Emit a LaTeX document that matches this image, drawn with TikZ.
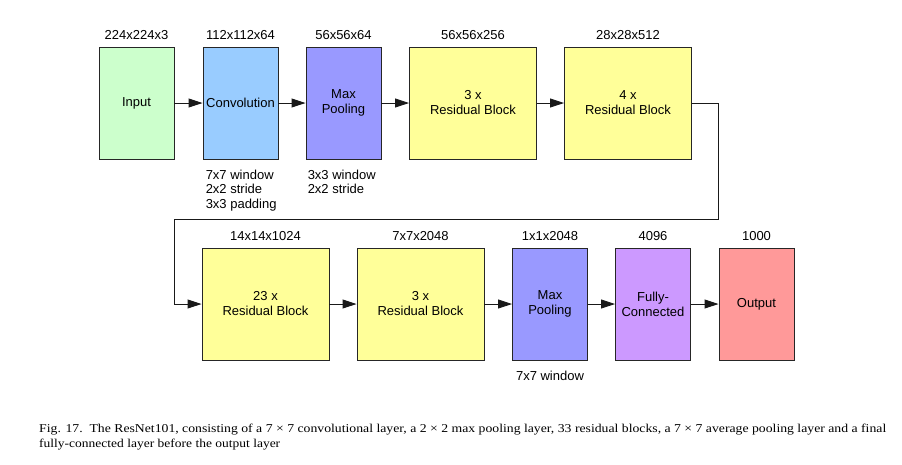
\documentclass[tikz,border=0pt]{standalone}
\usepackage{fontspec}
\setmainfont{Liberation Sans}
\newfontfamily\capfont{Liberation Serif}
\usetikzlibrary{arrows.meta}
\definecolor{cin}{HTML}{CCFFCC}
\definecolor{cconv}{HTML}{99CCFF}
\definecolor{cpool}{HTML}{9999FF}
\definecolor{cres}{HTML}{FFFF99}
\definecolor{cfc}{HTML}{CC99FF}
\definecolor{cout}{HTML}{FF9999}
\begin{document}
\begin{tikzpicture}[x=1pt,y=-1pt,
  blk/.style={draw=black!85, line width=0.9pt, minimum height=112pt, align=center,
    font=\fontsize{13}{15}\selectfont, inner sep=0pt},
  narrow/.style={blk, minimum width=75pt},
  wide/.style={blk, minimum width=127pt},
  dim/.style={font=\fontsize{13}{15}\selectfont, inner sep=0pt},
  note/.style={font=\fontsize{13}{14.5}\selectfont, align=left, inner sep=0pt},
  arr/.style={line width=0.9pt, draw=black!90, -{Triangle[length=14pt,width=9pt]}},
  capt/.style={inner sep=0pt, anchor=base west, font=\capfont\fontsize{12}{14}\selectfont}]
\useasboundingbox (0,0) rectangle (902,464);
% top row
\node[narrow, fill=cin]   (in)   at (136.5,103) {Input};
\node[narrow, fill=cconv] (conv) at (240.5,103) {Convolution};
\node[narrow, fill=cpool] (mp1)  at (343.5,103) {Max\\Pooling};
\node[wide, fill=cres]    (res1) at (473,103)   {3 x\\Residual Block};
\node[wide, fill=cres]    (res2) at (628,103)   {4 x\\Residual Block};
% bottom row
\node[wide, fill=cres]    (res3) at (265.5,304) {23 x\\Residual Block};
\node[wide, fill=cres]    (res4) at (420.5,304) {3 x\\Residual Block};
\node[narrow, fill=cpool] (mp2)  at (550,304)   {Max\\Pooling};
\node[narrow, fill=cfc]   (fc)   at (653,304)   {Fully-\\Connected};
\node[narrow, fill=cout]  (out)  at (756.5,304) {Output};
% dimension labels
\node[dim] (d1) at ([yshift=12pt]in.north)   {224x224x3};
\node[dim] (d2) at ([yshift=12pt]conv.north) {112x112x64};
\node[dim] (d3) at ([yshift=12pt]mp1.north)  {56x56x64};
\node[dim] (d4) at ([yshift=12pt]res1.north) {56x56x256};
\node[dim] (d5) at ([yshift=12pt]res2.north) {28x28x512};
\node[dim] (d6) at ([yshift=12pt]res3.north) {14x14x1024};
\node[dim] (d7) at ([yshift=12pt]res4.north) {7x7x2048};
\node[dim] (d8) at ([yshift=12pt]mp2.north)  {1x1x2048};
\node[dim] (d9) at ([yshift=12pt]fc.north)   {4096};
\node[dim] (d10) at ([yshift=12pt]out.north) {1000};
% notes
\node[note, anchor=north west] (n1) at ([xshift=3pt,yshift=-10pt]conv.south west) {7x7 window\\2x2 stride\\3x3 padding};
\node[note, anchor=north west] (n2) at ([xshift=2pt,yshift=-10pt]mp1.south west) {3x3 window\\2x2 stride};
\node[note, anchor=north] (n3) at ([yshift=-10pt]mp2.south) {7x7 window};
% connectors
\draw[arr] (in) -- (conv);
\draw[arr] (conv) -- (mp1);
\draw[arr] (mp1) -- (res1);
\draw[arr] (res1) -- (res2);
\coordinate (c1) at (718,219);
\coordinate (c2) at (174,219);
\draw[arr] (res2.east) -| (c1) -- (c2) |- (res3.west);
\draw[arr] (res3) -- (res4);
\draw[arr] (res4) -- (mp2);
\draw[arr] (mp2) -- (fc);
\draw[arr] (fc) -- (out);
% caption
\node[capt] (cap1) at (39,432) {\resizebox{847pt}{\height}{Fig. 17.\ \ The ResNet101, consisting of a 7 × 7 convolutional layer, a 2 × 2 max pooling layer, 33 residual blocks, a 7 × 7 average pooling layer and a final}};
\node[capt] (cap2) at (39,447) {\resizebox{241pt}{\height}{fully-connected layer before the output layer}};
\end{tikzpicture}
\end{document}
